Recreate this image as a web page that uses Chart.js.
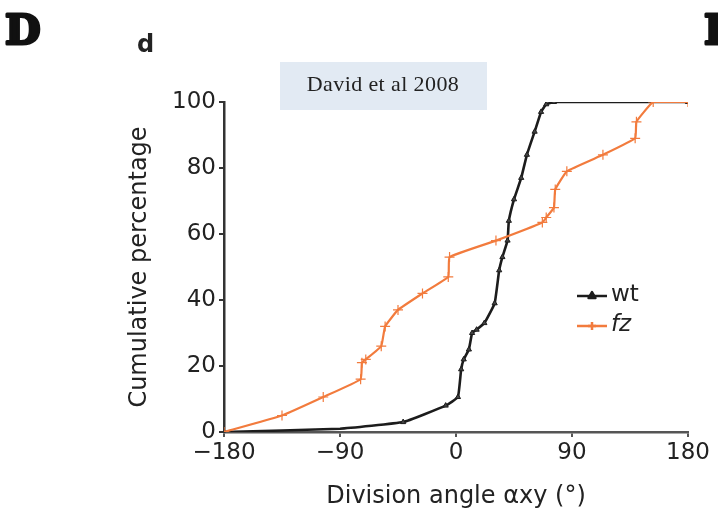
<html lang="en">
<head>
<meta charset="UTF-8">
<title>Division angle</title>
<script src="https://cdn.jsdelivr.net/npm/chart.js@4.4.1/dist/chart.umd.min.js"></script>
<style>
  body { margin: 0; background: #fff; }
</style>
</head>
<body>
<canvas id="myChart" width="718" height="519"></canvas>
<script>
// wild type
const wtAngle = [-180, -90, -41, -8, 1.5, 4, 6, 10, 12.5, 16, 22, 30, 33.5, 36, 40, 41, 45, 50.6, 55, 61, 66, 70, 76, 180];
const wtPct = [0, 1, 3, 8, 10.6, 19, 22, 25, 30, 31, 33, 39, 49, 53, 58, 64, 70.5, 77, 84, 91, 97, 99.3, 100, 100];
// fz mutant
const fzAngle = [-180, -135, -103, -74, -73, -70, -58, -55, -45, -26, -6, -5, 31, 67, 70, 76, 77, 86, 114, 139, 140, 153, 180];
const fzPct = [0, 5, 10.6, 16, 21, 22, 26, 32, 37, 42, 47, 53, 58, 63.5, 65, 68, 73.5, 79, 84, 89, 94, 100, 100];
const xTicks = [-180, -90, 0, 90, 180];
const yTicks = [0, 20, 40, 60, 80, 100];

const toXY = (xs, ys) => xs.map((x, i) => ({x: x, y: ys[i]}));

const orange = '#f27b3d';
const dark = '#1c1c1c';

const extras = {
    id: 'extras',
    beforeDraw(chart) {
        const ctx = chart.ctx;
        ctx.save();
        ctx.fillStyle = '#e2eaf3';
        ctx.fillRect(280, 62, 207, 48);
        ctx.fillStyle = '#222';
        ctx.font = '22px "Liberation Serif"';
        ctx.letterSpacing = '0.4px';
        ctx.textAlign = 'center';
        ctx.textBaseline = 'middle';
        ctx.fillText('David et al 2008', 383, 85);
        ctx.restore();
    },
    afterDraw(chart) {
        const ctx = chart.ctx;
        ctx.save();
        ctx.fillStyle = '#111';
        ctx.strokeStyle = '#111';
        ctx.lineWidth = 3;
        ctx.lineJoin = 'round';
        ctx.textBaseline = 'alphabetic';
        ctx.font = 'bold 41px "DejaVu Serif"';
        ctx.fillText('D', 5, 44);
        ctx.strokeText('D', 5, 44);
        ctx.fillText('E', 704, 44);
        ctx.strokeText('E', 704, 44);
        ctx.font = 'bold 24px "DejaVu Sans"';
        ctx.fillStyle = '#222';
        ctx.fillText('d', 137, 52);

        // legend
        const items = [
            {label: 'wt', color: dark, y: 296, italic: false, style: 'triangle'},
            {label: 'fz', color: orange, y: 326, italic: true, style: 'cross'}
        ];
        items.forEach(it => {
            ctx.strokeStyle = it.color;
            ctx.fillStyle = it.color;
            ctx.lineWidth = 2.5;
            ctx.beginPath();
            ctx.moveTo(577, it.y);
            ctx.lineTo(607, it.y);
            ctx.stroke();
            Chart.helpers.drawPoint(ctx, {pointStyle: it.style, radius: 4, borderWidth: 1.5}, 592, it.y);
            ctx.fillStyle = '#222';
            ctx.font = (it.italic ? 'italic ' : '') + '23px "DejaVu Sans"';
            ctx.textBaseline = 'middle';
            ctx.fillText(it.label, 611, it.y - 1);
        });
        ctx.restore();
    }
};

new Chart(document.getElementById('myChart'), {
    type: 'line',
    data: {
        datasets: [
            {
                label: 'fz',
                data: toXY(fzAngle, fzPct),
                borderColor: orange,
                backgroundColor: orange,
                borderWidth: 2.2,
                pointStyle: 'cross',
                pointRadius: 5,
                pointBorderWidth: 1.2,
                tension: 0.1
            },
            {
                label: 'wt',
                data: toXY(wtAngle, wtPct),
                borderColor: dark,
                backgroundColor: '#444',
                borderWidth: 2.6,
                pointStyle: 'triangle',
                pointRadius: c => (c.raw && c.raw.x === -90 ? 0 : 3),
                pointBorderWidth: 1,
                tension: 0.1
            }
        ]
    },
    options: {
        responsive: false,
        animation: false,
        layout: {padding: {left: 121, top: 102, right: 30, bottom: 5}},
        plugins: {legend: {display: false}, tooltip: {enabled: false}},
        scales: {
            x: {
                type: 'linear',
                min: -180,
                max: 180,
                afterBuildTicks: s => { s.ticks = xTicks.map(v => ({value: v})); },
                afterFit: s => { s.height = 82; },
                border: {color: '#555', width: 2.5},
                grid: {drawOnChartArea: false, tickLength: 5, color: '#555', lineWidth: 2},
                ticks: {
                    color: '#222',
                    padding: 2,
                    maxRotation: 0,
                    font: {family: 'DejaVu Sans', size: 23},
                    callback: v => String(v).replace('-', '\u2212')
                },
                title: {
                    display: true,
                    text: 'Division angle \u03b1xy (\u00b0)',
                    color: '#222',
                    padding: {top: 0, bottom: 3},
                    font: {family: 'DejaVu Sans', size: 24}
                }
            },
            y: {
                min: 0,
                max: 100,
                afterBuildTicks: s => { s.ticks = yTicks.map(v => ({value: v})); },
                afterFit: s => { s.width = 103; },
                border: {color: '#333', width: 2.5},
                grid: {drawOnChartArea: false, tickLength: 5, color: '#333', lineWidth: 2},
                ticks: {
                    color: '#222',
                    padding: 3,
                    font: {family: 'DejaVu Sans', size: 23}
                },
                title: {
                    display: true,
                    text: 'Cumulative percentage',
                    color: '#222',
                    padding: {top: 4, bottom: 0},
                    font: {family: 'DejaVu Sans', size: 24}
                }
            }
        }
    },
    plugins: [extras]
});
</script>
</body>
</html>
